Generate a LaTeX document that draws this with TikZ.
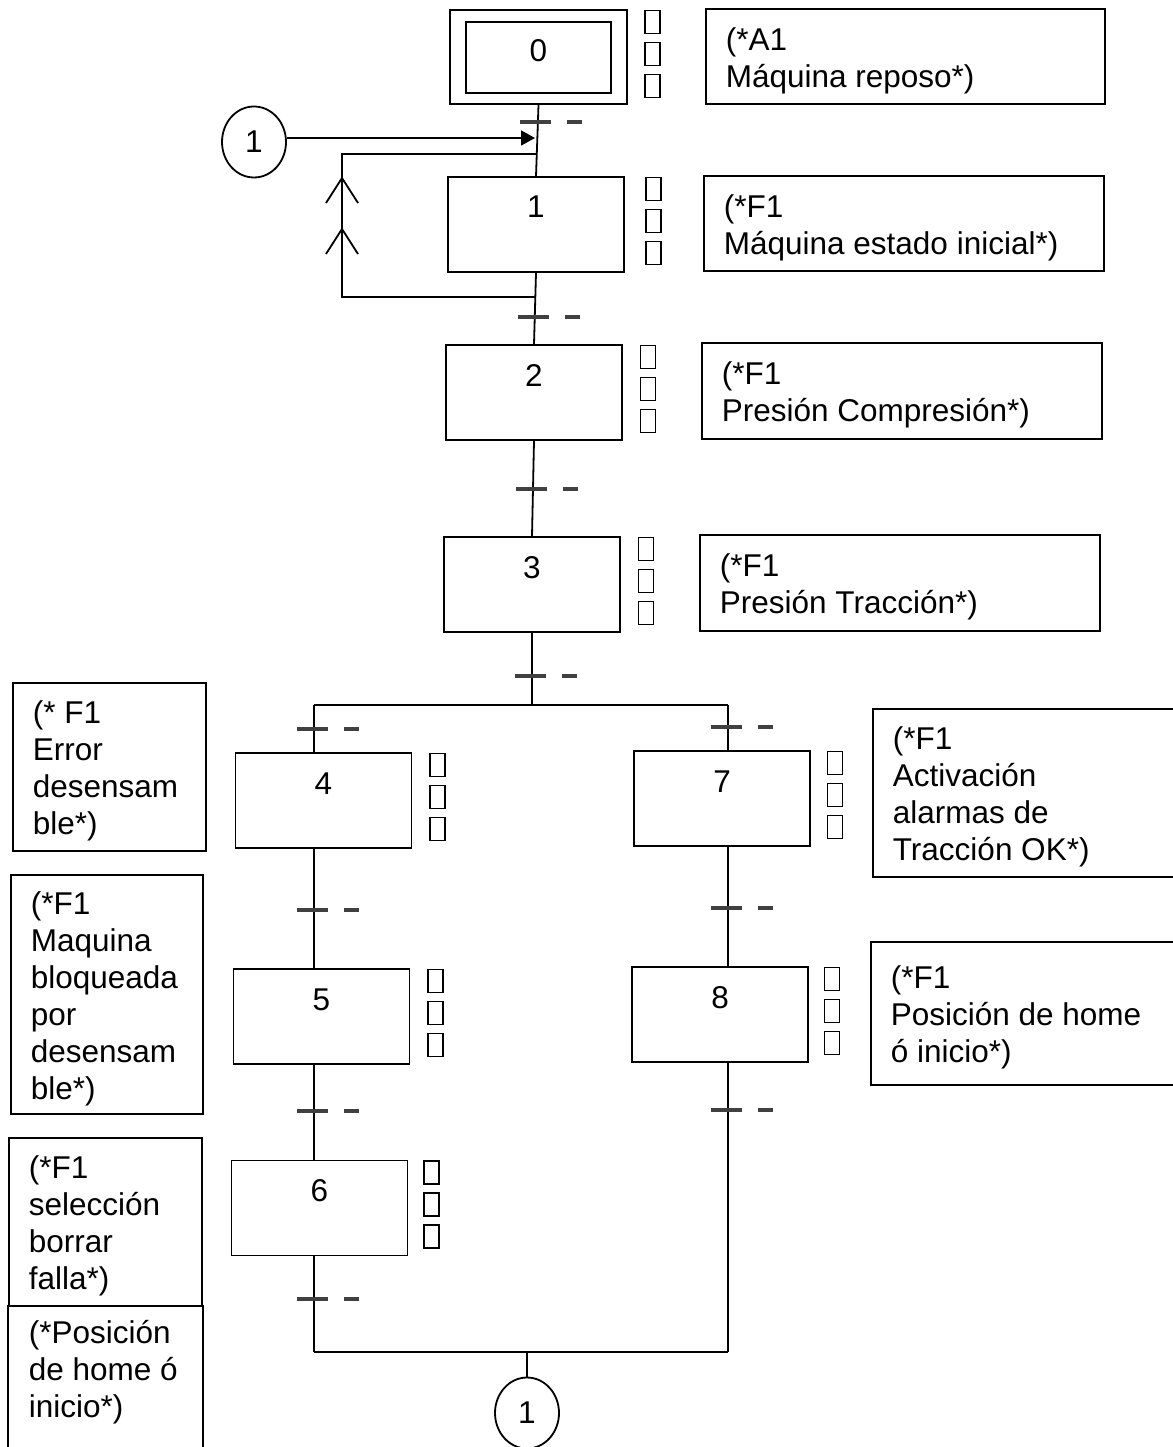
\documentclass[tikz,border=0pt]{standalone}
\usepackage{fontspec}
\setmainfont{Liberation Sans}
\usetikzlibrary{arrows.meta,calc,shapes.geometric}
% strut that opens the first line of a comment block
\newcommand{\firstline}{\rule{0pt}{31pt}}
\begin{document}
\begin{tikzpicture}[x=1pt,y=-1pt,
  line width=1.8pt,
  every node/.style={font=\fontsize{31.5}{37}\selectfont},
  stepbox/.style={draw, minimum width=176pt, minimum height=95pt, inner sep=0pt,
                  text height=41pt, text depth=54pt},
  actbox/.style={draw, minimum width=15pt, minimum height=23pt, inner sep=0pt, line width=1.7pt},
  combox/.style={draw, inner xsep=20pt, inner ysep=0pt, align=flush left, anchor=north west},
  comtext/.style={combox, draw=none},
  conn/.style={draw, ellipse, minimum width=64pt, minimum height=71pt, inner sep=0pt},
  transbar/.style={line width=3.6pt, draw=black!75},
  trans/.pic={\draw[transbar] (-17,0) -- (14,0); \draw[transbar] (30,0) -- (45,0);}
]
\useasboundingbox (0,0) rectangle (1172,1447);
\fill[white] (0,0) rectangle (1172,1447);

% ---- steps ----
\node[draw, minimum width=177pt, minimum height=94pt, inner sep=0pt] (s0) at (538.5,57) {};
\node[draw, minimum width=145pt, minimum height=71pt, inner sep=0pt,
      text height=40pt, text depth=31pt] (s0in) at (538.5,57.5) {0};
\node[stepbox] (s1) at (536,224.5) {1};
\node[stepbox] (s2) at (534,392.5) {2};
\node[stepbox] (s3) at (532,584.5) {3};
\node[stepbox] (s4) at (323.5,800.5) {4};
\node[stepbox] (s5) at (321.5,1016.5) {5};
\node[stepbox] (s6) at (319.5,1208) {6};
\node[stepbox] (s7) at (722,798.5) {7};
\node[stepbox] (s8) at (720,1014.5) {8};

% ---- action squares beside each step ----
\foreach \s/\dx in {s0/24.5, s1/28.5, s2/25, s3/25, s4/25, s5/25, s6/23, s7/24, s8/23}{
  \foreach \k/\dy in {a/13, b/45, c/77}{
    \node[actbox] (\s\k) at ($(\s.north east)+(\dx,\dy)$) {};
  }
}

% ---- comments ----
\node[combox, text width=359pt, minimum height=95pt] (c0) at (705,8) {\firstline(*A1\\Máquina reposo*)};
\node[combox, text width=360pt, minimum height=95pt] (c1) at (703,175) {\firstline(*F1\\Máquina estado inicial*)};
\node[combox, text width=360pt, minimum height=96pt] (c2) at (701,342) {\firstline(*F1\\Presión Compresión*)};
\node[combox, text width=360pt, minimum height=96pt] (c3) at (699,534) {\firstline(*F1\\Presión Tracción*)};
\node[combox, text width=153pt, minimum height=168pt] (c4) at (12,682) {\firstline(* F1\\Error\\desensam\\ble*)};
\node[combox, text width=152pt, minimum height=239pt] (c5) at (10,874) {\firstline(*F1\\Maquina\\bloqueada\\por\\desensam\\ble*)};
\node[combox, text width=153pt, minimum height=168pt] (c6a) at (8,1137) {\firstline(*F1\\selección\\borrar\\falla*)};
\node[comtext, text width=153pt, minimum height=132pt] (c6b) at (8,1305) {(*Posición\\de home ó\\inicio*)};
\draw (c6b.north west) -- ++(0,150);
\draw (c6b.north east) -- ++(0,150);
\node[combox, text width=263pt, minimum height=168pt] (c7) at (872,708) {\firstline(*F1\\Activación\\alarmas de\\Tracción OK*)};
\node[combox, text width=265pt, minimum height=143pt] (c8) at (870,941) {\firstline(*F1\\Posición de home\\ó inicio*)};

% ---- jump connectors ----
\node[conn] (c1top) at (254,142) {1};
\node[conn] (c1bot) at (527,1413) {1};

% ---- main sequence ----
\draw (s0.south) -- (s1.north);
\draw (s1.south) -- (s2.north);
\draw (s2.south) -- (s3.north);
\coordinate (dv) at (532,705);
\coordinate (dvL) at (314,705);
\coordinate (dvR) at (728,705);
\draw (s3.south) -- (dv);
\draw (dvL) -- (dvR);

% ---- left branch ----
\draw (dvL) -- (dvL |- s4.north);
\draw (dvL |- s4.south) -- (dvL |- s5.north);
\draw (dvL |- s5.south) -- (dvL |- s6.north);
\coordinate (cvL) at (314,1352);
\draw (dvL |- s6.south) -- (cvL);

% ---- right branch ----
\draw (dvR) -- (dvR |- s7.north);
\draw (dvR |- s7.south) -- (dvR |- s8.north);
\coordinate (cvR) at (728,1352);
\draw (dvR |- s8.south) -- (cvR);

% ---- closing line to the jump connector ----
\draw (cvL) -- (cvR);
\coordinate (cv) at (527,1352);
\draw (cv) -- (c1bot.north);

% ---- jump back into the top of the chart ----
\coordinate (jin) at (535,138);
\draw[-{Triangle[length=14pt,width=15pt]}] (c1top.east |- jin) -- (jin);

% ---- loop around step 1 ----
\coordinate (lt) at (537,154);
\coordinate (lc) at (342,154);
\coordinate (lb) at (535,297);
\draw (lt) -- (lc) |- (lb);
\coordinate (ch1) at (342,178);
\coordinate (ch2) at (342,229);
\draw (ch1) ++(-16,25) -- (ch1) -- ++(16,25);
\draw (ch2) ++(-16,25) -- (ch2) -- ++(16,25);

% ---- transitions ----
\coordinate (t01) at (537,122);
\coordinate (t12) at (535,317);
\coordinate (t23) at (533,489);
\coordinate (t3)  at (532,676);
\coordinate (tL4) at (314,729);
\coordinate (t45) at (314,910);
\coordinate (t56) at (314,1111);
\coordinate (t6)  at (314,1299);
\coordinate (tR7) at (728,727);
\coordinate (t78) at (728,908);
\coordinate (t8)  at (728,1110);
\foreach \t in {t01,t12,t23,t3,tL4,t45,t56,t6,tR7,t78,t8}{
  \pic at (\t) {trans};
}
\end{tikzpicture}
\end{document}
